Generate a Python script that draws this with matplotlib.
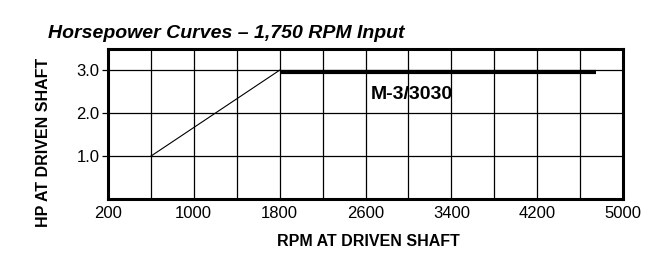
import matplotlib
matplotlib.use("Agg")
import matplotlib.pyplot as plt
from matplotlib.ticker import MultipleLocator

plt.rcParams["font.family"] = ["Liberation Sans", "DejaVu Sans"]

# rising (thin) part and flat (thick) part of the M-3/3030 curve
slope_rpm = [600, 1800]
slope_hp = [1.0, 3.0]
flat_rpm = [1800, 4750]
flat_hp = [2.97, 2.97]

x_ticks = [200, 1000, 1800, 2600, 3400, 4200, 5000]
y_ticks = [1.0, 2.0, 3.0]
y_tick_labels = ["1.0", "2.0", "3.0"]

curve_label = "M-3/3030"
label_rpm = 3030
label_hp = 2.43

fig = plt.figure(figsize=(6.53, 2.68), dpi=100)
ax = fig.add_axes([0.165, 0.2563, 0.7895, 0.562])

ax.plot(slope_rpm, slope_hp, color="black", linewidth=0.8)
ax.plot(flat_rpm, flat_hp, color="black", linewidth=3.0, solid_capstyle="butt")
ax.text(label_rpm, label_hp, curve_label, ha="center", va="center",
        fontsize=14, fontweight="bold")

ax.set_xlim(200, 5000)
ax.set_ylim(0, 3.5)
ax.set_xticks(x_ticks)
ax.xaxis.set_minor_locator(MultipleLocator(400, offset=200))
ax.set_yticks(y_ticks)
ax.set_yticklabels(y_tick_labels)

ax.grid(which="both", axis="x", color="black", linewidth=0.9)
ax.grid(which="major", axis="y", color="black", linewidth=0.9)
ax.tick_params(axis="x", which="both", length=0, pad=5, labelsize=12)
ax.tick_params(axis="y", length=4, width=0.9, pad=2, labelsize=12)

for side in ["left", "right", "top", "bottom"]:
    ax.spines[side].set_linewidth(2.2)

ax.set_xlabel("RPM AT DRIVEN SHAFT", fontsize=11.5, fontweight="bold")
ax.set_ylabel("HP AT DRIVEN SHAFT", fontsize=11.5, fontweight="bold")
ax.xaxis.set_label_coords(0.505, -0.28)
ax.yaxis.set_label_coords(-0.1255, 0.38)
ax.xaxis.label.set_va("center")
ax.yaxis.label.set_va("center")

fig.text(0.0735, 0.86, "Horsepower Curves \u2013 1,750 RPM Input", fontsize=14,
         fontweight="bold", fontstyle="italic", va="baseline", ha="left")

fig.savefig("out.png", dpi=100)
